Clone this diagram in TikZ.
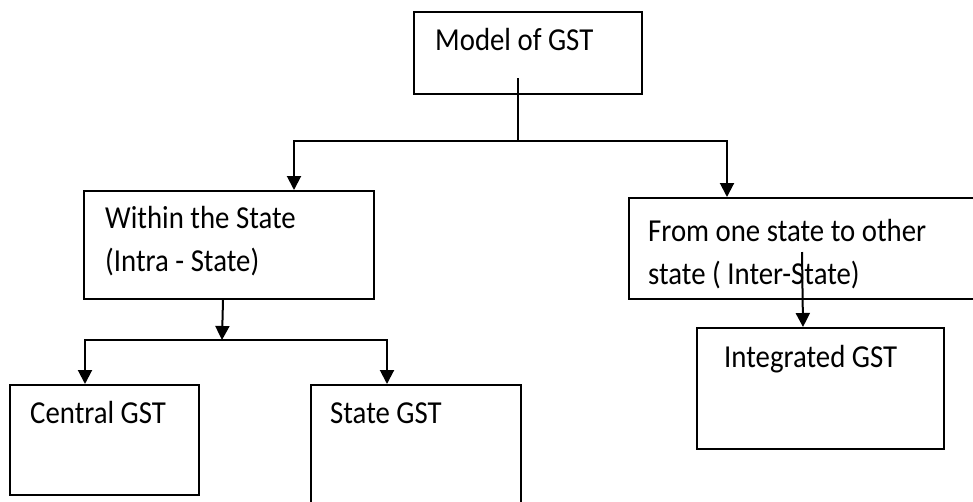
\documentclass[tikz,border=0pt]{standalone}
\usepackage{fontspec}
\setmainfont{Carlito}[FakeStretch=0.9]
\usetikzlibrary{positioning,arrows.meta}

\begin{document}
\begin{tikzpicture}[x=1pt,y=-1pt,
    box/.style={draw, line width=2pt, inner sep=0pt, anchor=north west},
    txt/.style={inner sep=0pt, anchor=base west, align=left,
        font=\fontsize{32}{43}\selectfont},
    arr/.style={line width=2pt, -{Triangle[width=14pt,length=14pt]}}]
    \useasboundingbox (0,0) rectangle (973,501);

    % boxes
    \node[box, minimum width=228pt, minimum height=82pt] (model) at (413,11) {};
    \node[box, minimum width=290pt, minimum height=108pt] (within) at (83,190) {};
    \node[box, minimum width=352pt, minimum height=101pt] (inter) at (628,197) {};
    \node[box, minimum width=189pt, minimum height=110pt] (central) at (9,384) {};
    \node[box, minimum width=210pt, minimum height=130pt] (stategst) at (310,384) {};
    \node[box, minimum width=247pt, minimum height=121pt] (integ) at (696,327) {};

    % texts (base = last line)
    \node[txt] (tmodel) at (435,50) {Model of GST};
    \node[txt] (twithin) at (105,271) {Within the State\\(Intra - State)};
    \node[txt] (tinter) at (648,284) {From one state to other\\state ( Inter-State)};
    \node[txt] (tcentral) at (30,423) {Central GST};
    \node[txt] (tstate) at (330,423) {State GST};
    \node[txt] (tinteg) at (724,367) {Integrated GST};

    % connectors
    \coordinate (stem) at (518,78);
    \coordinate (split) at (518,141);
    \coordinate (split2) at (222,340);
    \coordinate (istem) at (802,252);
    \draw[line width=2pt] (stem) -- (split);
    \draw[arr] (split) -| ([xshift=65pt]within.north);
    \draw[arr] (split) -| ([xshift=-78pt]inter.north);
    \draw[arr] ([xshift=-6pt]within.south) -- (split2);
    \draw[arr] (split2) -| ([xshift=-19.5pt]central.north);
    \draw[arr] (split2) -| ([xshift=-29pt]stategst.north);
    \draw[arr] (istem) -- ([xshift=-17.5pt]integ.north);
\end{tikzpicture}
\end{document}
